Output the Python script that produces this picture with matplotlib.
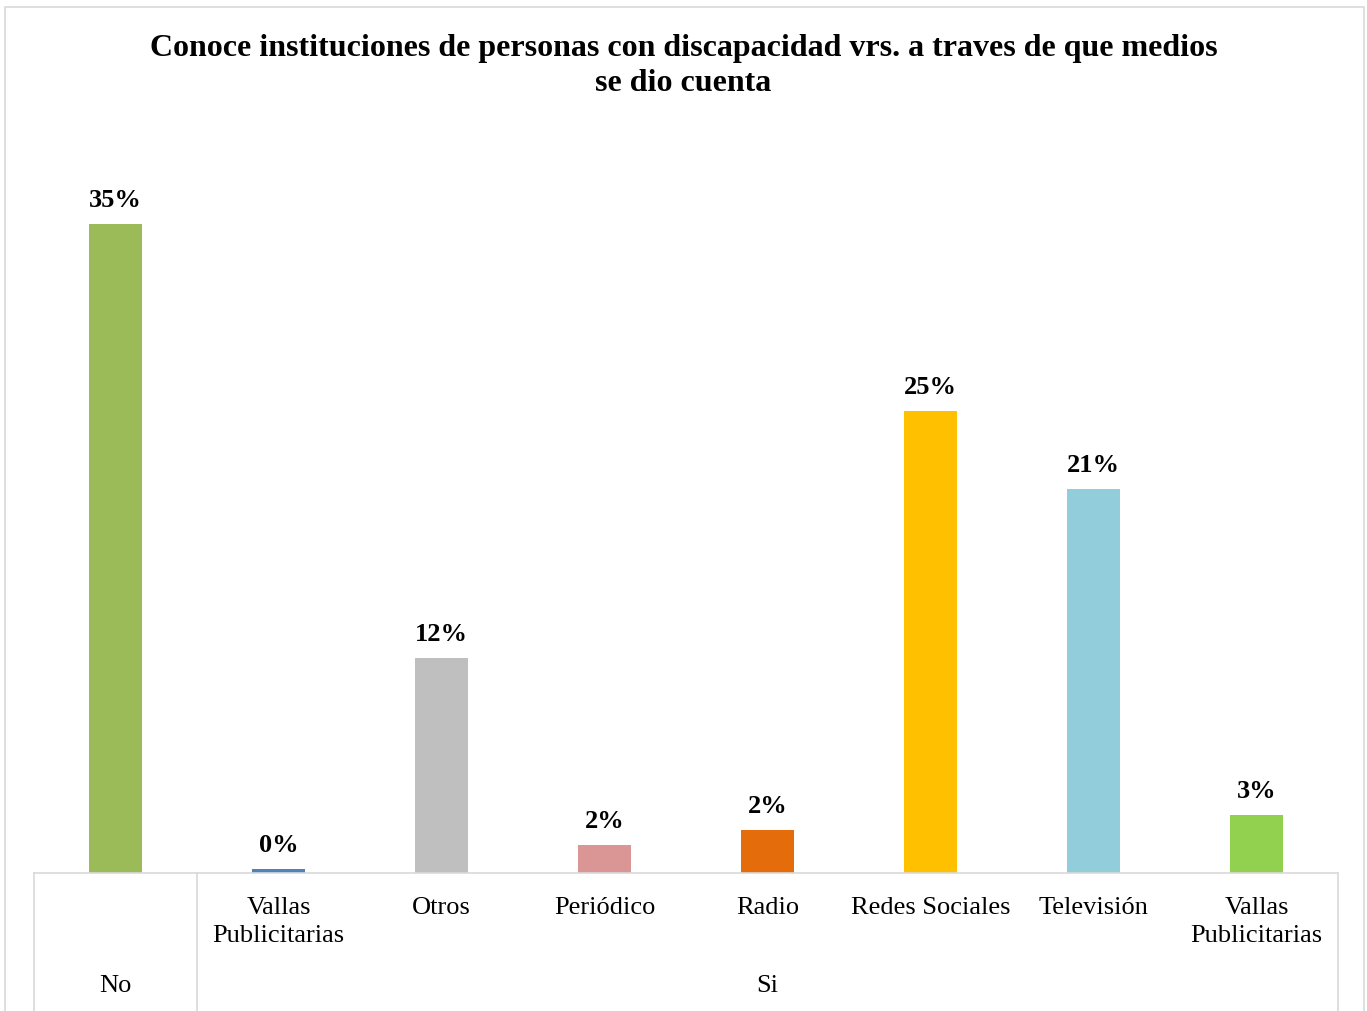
import matplotlib.pyplot as plt
from matplotlib.patches import Rectangle

plt.rcParams['font.family'] = ['Liberation Serif', 'DejaVu Serif']

# data
grupos = ["No", "Si"]
grupo_tamano = [1, 7]
medios = ["", "Vallas\nPublicitarias", "Otros", "Periódico", "Radio",
          "Redes Sociales", "Televisión", "Vallas\nPublicitarias"]
porcentajes = [35.0, 0.2, 11.6, 1.5, 2.3, 24.9, 20.7, 3.1]
colores = ["#9bbb59", "#4f81bd", "#bfbfbf", "#d99694", "#e46c0a",
           "#ffc000", "#92cddc", "#92d050"]
titulo = "Conoce instituciones de personas con discapacidad vrs. a traves de que medios\nse dio cuenta"

W, H = 1367, 1011
fig = plt.figure(figsize=(W / 100, H / 100), dpi=100)
fig.patch.set_facecolor("white")

# outer chart border
fig.patches.append(Rectangle((5 / W, -0.05), 1359 / W, 1.05 - 7 / H,
                             transform=fig.transFigure, fill=False,
                             edgecolor="#d9d9d9", linewidth=1.2))

x0, x1 = 34, 1338
base, top = 873, 131
ax = fig.add_axes([x0 / W, (H - base) / H, (x1 - x0) / W, (base - top) / H])
ax.set_xlim(-0.5, len(porcentajes) - 0.5)
ax.set_ylim(0, 40)

xs = range(len(porcentajes))
ax.bar(xs, porcentajes, width=0.32, color=colores)
for x, v in zip(xs, porcentajes):
    ax.text(x, v + 0.65, f"{v:.0f}%", ha="center", va="bottom",
            fontsize=19, fontweight="bold")

for s in ["top", "right", "left"]:
    ax.spines[s].set_visible(False)
ax.spines["bottom"].set_color("#d9d9d9")
ax.spines["bottom"].set_linewidth(1.2)
ax.set_yticks([])
ax.set_xticks([])

# multi-level category axis
trans = ax.get_xaxis_transform()
for x, lab in zip(xs, medios):
    ax.text(x, -0.032, lab, transform=trans, ha="center", va="top",
            fontsize=19, linespacing=1.35)

bordes = [-0.5]
for n in grupo_tamano:
    bordes.append(bordes[-1] + n)
for b in bordes:
    ax.plot([b, b], [0, -0.2], transform=trans, color="#d9d9d9",
            linewidth=1.2, clip_on=False)
for i, g in enumerate(grupos):
    centro = (bordes[i] + bordes[i + 1]) / 2
    ax.text(centro, -0.152, g, transform=trans, ha="center", va="center",
            fontsize=19)

fig.text(0.5, 1 - 66 / H, titulo, ha="center", va="center",
         fontsize=23, fontweight="bold", linespacing=1.3)

fig.savefig("out.png", dpi=100)
